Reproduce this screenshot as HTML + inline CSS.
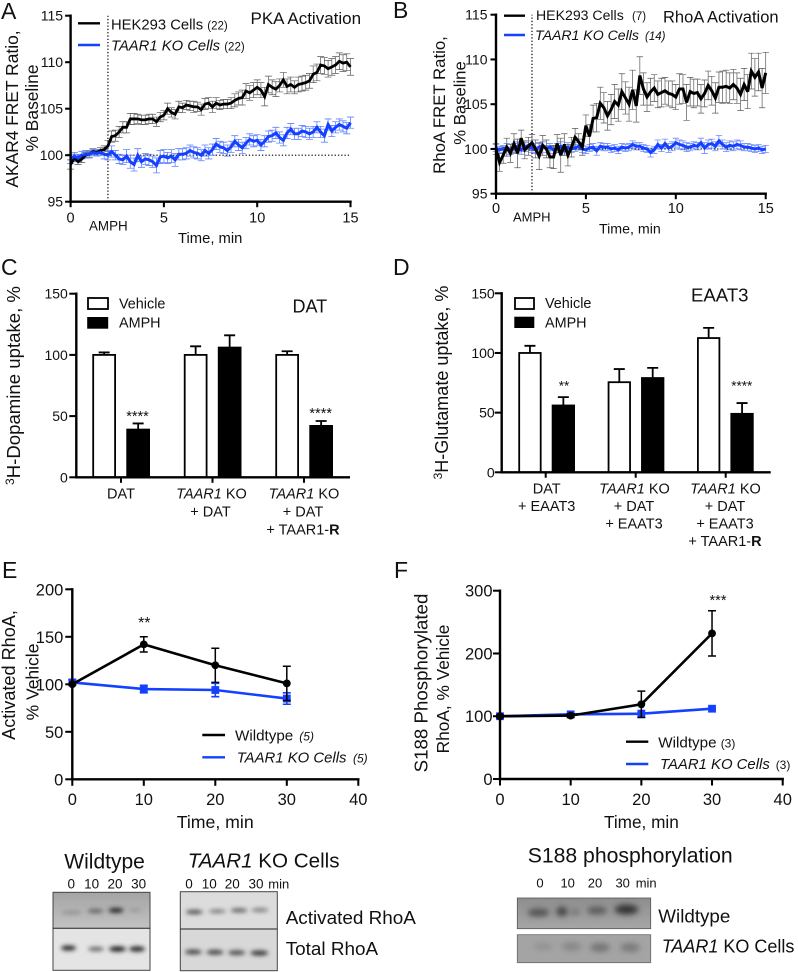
<!DOCTYPE html>
<html lang="en">
<head>
<meta charset="utf-8">
<title>AMPH signalling figure</title>
<style>
html,body{margin:0;padding:0;background:#fff;width:798px;height:972px;overflow:hidden}
svg{display:block}
text{font-family:"Liberation Sans",Arial,sans-serif;fill:#111}
.i{font-style:italic}
</style>
</head>
<body>
<svg id="fig" xmlns="http://www.w3.org/2000/svg" width="798" height="972" viewBox="0 0 798 972">
<defs>
<filter id="b2" x="-40%" y="-100%" width="180%" height="300%"><feGaussianBlur stdDeviation="2"/></filter>
<filter id="b3" x="-40%" y="-100%" width="180%" height="300%"><feGaussianBlur stdDeviation="3"/></filter>
<linearGradient id="wtTop" x1="0" y1="0" x2="0" y2="1"><stop offset="0" stop-color="#a4a4a4"/><stop offset="1" stop-color="#c2c2c2"/></linearGradient>
<linearGradient id="s188Bg" x1="0" y1="0" x2="0" y2="1"><stop offset="0" stop-color="#8e8e8e"/><stop offset="1" stop-color="#a6a6a6"/></linearGradient>
</defs>

<!-- Panel letters -->
<g font-size="23">
<text x="1" y="19">A</text>
<text x="393" y="18">B</text>
<text x="1" y="275">C</text>
<text x="393" y="275">D</text>
<text x="2" y="578">E</text>
<text x="394" y="578">F</text>
</g>

<!-- Panel A text -->
<g>
<text x="250.5" y="24" font-size="17">PKA Activation</text>
<line x1="78" x2="100" y1="23.3" y2="23.3" stroke="#000" stroke-width="2.4"/>
<line x1="78" x2="100" y1="45" y2="45" stroke="#1440ff" stroke-width="2.4"/>
<text x="111" y="29.3" font-size="14.8">HEK293 Cells <tspan font-size="11.5">(22)</tspan></text>
<text x="111" y="50.7" font-size="14.8"><tspan class="i">TAAR1 KO Cells</tspan> <tspan font-size="11.5">(22)</tspan></text>
<text transform="rotate(-90 18 109)" x="18" y="109" text-anchor="middle" font-size="17.4">AKAR4 FRET Ratio,</text>
<text transform="rotate(-90 38 108)" x="38" y="108" text-anchor="middle" font-size="17.4">% Baseline</text>
<text x="89" y="230.7" font-size="13.4">AMPH</text>
<text x="178" y="243" font-size="14.8">Time, min</text>
</g>

<!-- Panel B text -->
<g>
<text x="663" y="22.7" font-size="16.5">RhoA Activation</text>
<line x1="504" x2="525" y1="15.7" y2="15.7" stroke="#000" stroke-width="2.4"/>
<line x1="504" x2="525" y1="35" y2="35" stroke="#1440ff" stroke-width="2.4"/>
<text x="536" y="20" font-size="14.1">HEK293 Cells</text>
<text x="632" y="20" font-size="11.5">(7)</text>
<text x="535" y="40" font-size="14.1" class="i">TAAR1 KO Cells</text>
<text x="645" y="40" font-size="11.5" class="i">(14)</text>
<text transform="rotate(-90 445 105)" x="445" y="105" text-anchor="middle" font-size="16.8">RhoA FRET Ratio,</text>
<text transform="rotate(-90 465.7 103)" x="465.7" y="103" text-anchor="middle" font-size="16.7">% Baseline</text>
<text x="513" y="221.7" font-size="13">AMPH</text>
<text x="599" y="233.3" font-size="14.2">Time, min</text>
</g>

<!-- Panel C text -->
<g>
<text x="292.5" y="312.7" font-size="18">DAT</text>
<text transform="rotate(-90 20 385.5)" x="20" y="385.5" text-anchor="middle" font-size="18.6"><tspan font-size="12" dy="-6">3</tspan><tspan dy="6">H-Dopamine uptake, %</tspan></text>
<rect x="88" y="298" width="20" height="11" fill="#fff" stroke="#000" stroke-width="1.8"/>
<rect x="87.2" y="317" width="21" height="11.7" fill="#000"/>
<text x="119" y="308.3" font-size="14.4">Vehicle</text>
<text x="119" y="327.7" font-size="14.4">AMPH</text>
<g font-size="14.5" text-anchor="middle">
<text x="121" y="498.3">DAT</text>
<text x="211.5" y="498.3"><tspan class="i">TAAR1</tspan> KO</text>
<text x="210.5" y="516.7">+ DAT</text>
<text x="304" y="498.3"><tspan class="i">TAAR1</tspan> KO</text>
<text x="303" y="516.7">+ DAT</text>
<text x="303" y="534.3">+ TAAR1-<tspan font-weight="bold">R</tspan></text>
</g>
<g font-size="14.5" text-anchor="middle">
<text x="137.5" y="421">****</text>
<text x="320.7" y="418">****</text>
</g>
</g>

<!-- Panel D text -->
<g>
<text x="691" y="301.7" font-size="18.6">EAAT3</text>
<text transform="rotate(-90 448 382.5)" x="448" y="382.5" text-anchor="middle" font-size="18"><tspan font-size="12" dy="-6">3</tspan><tspan dy="6">H-Glutamate uptake, %</tspan></text>
<rect x="515" y="298" width="19" height="11" fill="#fff" stroke="#000" stroke-width="1.8"/>
<rect x="514.3" y="316.7" width="20" height="11.3" fill="#000"/>
<text x="545" y="308" font-size="14.4">Vehicle</text>
<text x="545" y="327.7" font-size="14.4">AMPH</text>
<g font-size="14.5" text-anchor="middle">
<text x="546.7" y="493.3">DAT</text>
<text x="546.7" y="511">+ EAAT3</text>
<text x="634.5" y="493.3"><tspan class="i">TAAR1</tspan> KO</text>
<text x="634" y="511">+ DAT</text>
<text x="634" y="528.7">+ EAAT3</text>
<text x="725.5" y="493.3"><tspan class="i">TAAR1</tspan> KO</text>
<text x="725" y="511">+ DAT</text>
<text x="725" y="528.7">+ EAAT3</text>
<text x="725" y="546">+ TAAR1-<tspan font-weight="bold">R</tspan></text>
</g>
<g font-size="13.5" text-anchor="middle">
<text x="564" y="390.5">**</text>
<text x="741.7" y="390.5">****</text>
</g>
</g>

<!-- Panel E text -->
<g>
<text transform="rotate(-90 15 675)" x="15" y="675" text-anchor="middle" font-size="18.1">Activated RhoA,</text>
<text transform="rotate(-90 38.3 682)" x="38.3" y="682" text-anchor="middle" font-size="17.5">% Vehicle</text>
<text x="176.7" y="828" font-size="17.7">Time, min</text>
<text x="144.3" y="628" font-size="16" text-anchor="middle">**</text>
<line x1="202.3" x2="225" y1="735" y2="735" stroke="#000" stroke-width="2.4"/>
<line x1="202.3" x2="225" y1="757.3" y2="757.3" stroke="#1440ff" stroke-width="2.4"/>
<text x="235" y="740.7" font-size="15.2">Wildtype</text>
<text x="299.3" y="740.7" font-size="12" class="i">(5)</text>
<text x="236.7" y="762.7" font-size="14.9" class="i">TAAR1 KO Cells</text>
<text x="353" y="762.7" font-size="12" class="i">(5)</text>
</g>

<!-- Panel F text -->
<g>
<text transform="rotate(-90 427.3 683)" x="427.3" y="683" text-anchor="middle" font-size="18.7">S188 Phosphorylated</text>
<text transform="rotate(-90 449 689)" x="449" y="689" text-anchor="middle" font-size="17.3">RhoA, % Vehicle</text>
<text x="604" y="828" font-size="17.2">Time, min</text>
<text x="718" y="605" font-size="14.5" text-anchor="middle">***</text>
<line x1="626" x2="648.3" y1="741.7" y2="741.7" stroke="#000" stroke-width="2.4"/>
<line x1="626" x2="648.3" y1="764" y2="764" stroke="#1440ff" stroke-width="2.4"/>
<text x="658.3" y="747.3" font-size="15.2">Wildtype</text>
<text x="720.7" y="747.3" font-size="12">(3)</text>
<text x="660" y="769" font-size="14.9" class="i">TAAR1 KO Cells</text>
<text x="775.7" y="769" font-size="12">(3)</text>
</g>

<!-- Western blots, left -->
<g>
<text x="64.3" y="868.3" font-size="21">Wildtype</text>
<text x="187.7" y="867.3" font-size="20.6"><tspan class="i">TAAR1</tspan> KO Cells</text>
<g font-size="13.5" text-anchor="middle">
<text x="71.3" y="888.7">0</text>
<text x="91.7" y="888.7">10</text>
<text x="115" y="888.7">20</text>
<text x="138.7" y="888.7">30</text>
<text x="189" y="888.7">0</text>
<text x="209.3" y="888.7">10</text>
<text x="232.3" y="888.7">20</text>
<text x="256" y="888.7">30</text>
</g>
<text x="268.3" y="888.7" font-size="13">min</text>
<text x="285.7" y="924" font-size="18.9">Activated RhoA</text>
<text x="285.7" y="955" font-size="18.9">Total RhoA</text>
</g>

<g>
<rect x="53" y="892.3" width="97" height="36" fill="url(#wtTop)"/>
<ellipse cx="71.5" cy="912.5" rx="10" ry="1.8" fill="#8f8f8f" filter="url(#b2)"/>
<ellipse cx="95.5" cy="911" rx="8" ry="2.2" fill="#686868" filter="url(#b2)"/>
<ellipse cx="116" cy="910.3" rx="7.5" ry="2.6" fill="#2a2a2a" filter="url(#b2)"/>
<ellipse cx="135" cy="910" rx="6" ry="1.6" fill="#949494" filter="url(#b2)"/>
</g>
<g>
<rect x="53" y="928.3" width="97" height="42" fill="#e4e4e4"/>
<ellipse cx="68.5" cy="948" rx="7.5" ry="2.6" fill="#2a2a2a" filter="url(#b2)"/>
<ellipse cx="96" cy="949" rx="8" ry="2.3" fill="#6a6a6a" filter="url(#b2)"/>
<ellipse cx="117.5" cy="949" rx="8.5" ry="2.7" fill="#222" filter="url(#b2)"/>
<ellipse cx="137" cy="949" rx="8" ry="2.7" fill="#2a2a2a" filter="url(#b2)"/>
</g>
<rect x="53" y="892.3" width="97" height="78" fill="none" stroke="#444" stroke-width="1"/>
<line x1="53" x2="150" y1="928.3" y2="928.3" stroke="#222" stroke-width="1"/>

<g>
<rect x="180.3" y="891.7" width="97" height="37.5" fill="#dcdcdc"/>
<ellipse cx="194.3" cy="912" rx="8.5" ry="2.3" fill="#555" filter="url(#b2)"/>
<ellipse cx="217.3" cy="911.3" rx="8.5" ry="1.9" fill="#777" filter="url(#b2)"/>
<ellipse cx="239" cy="910.3" rx="8.5" ry="2.1" fill="#5e5e5e" filter="url(#b2)"/>
<ellipse cx="260" cy="910" rx="8.5" ry="1.9" fill="#777" filter="url(#b2)"/>
</g>
<g>
<rect x="180.3" y="929" width="97" height="42" fill="#d8d8d8"/>
<ellipse cx="193.3" cy="952" rx="8.5" ry="2.5" fill="#4a4a4a" filter="url(#b2)"/>
<ellipse cx="215" cy="952.3" rx="8.5" ry="2.5" fill="#4a4a4a" filter="url(#b2)"/>
<ellipse cx="236.7" cy="952.7" rx="8.5" ry="2.5" fill="#505050" filter="url(#b2)"/>
<ellipse cx="259.3" cy="953" rx="9" ry="2.6" fill="#3a3a3a" filter="url(#b2)"/>
</g>
<rect x="180.3" y="891.7" width="97" height="79" fill="none" stroke="#444" stroke-width="1"/>
<line x1="180.3" x2="277.3" y1="929" y2="929" stroke="#222" stroke-width="1"/>

<!-- Western blots, right -->
<g>
<text x="527.7" y="862.3" font-size="21.2">S188 phosphorylation</text>
<g font-size="13" text-anchor="middle">
<text x="540" y="887.7">0</text>
<text x="567.7" y="887.7">10</text>
<text x="595" y="887.7">20</text>
<text x="622.7" y="887.7">30</text>
</g>
<text x="635.7" y="887.7" font-size="13">min</text>
<text x="658.3" y="922.7" font-size="18.8">Wildtype</text>
<text x="661.7" y="952.7" font-size="18"><tspan class="i">TAAR1</tspan> KO Cells</text>
</g>
<g>
<rect x="517.3" y="898" width="133.4" height="30.7" fill="url(#s188Bg)" stroke="#555" stroke-width=".8"/>
<ellipse cx="538.5" cy="912.5" rx="11" ry="4" fill="#525252" filter="url(#b3)"/>
<ellipse cx="562" cy="911.5" rx="6" ry="5" fill="#4a4a4a" filter="url(#b3)"/>
<ellipse cx="575" cy="912" rx="5" ry="3" fill="#727272" filter="url(#b3)"/>
<ellipse cx="597" cy="910.5" rx="10" ry="4" fill="#5c5c5c" filter="url(#b3)"/>
<ellipse cx="626.5" cy="909.5" rx="12" ry="5" fill="#363636" filter="url(#b3)"/>
</g>
<g>
<rect x="517.3" y="934.7" width="133.4" height="28" fill="#a4a4a4" stroke="#666" stroke-width=".8"/>
<ellipse cx="543" cy="946.5" rx="10" ry="3.5" fill="#929292" filter="url(#b3)"/>
<ellipse cx="571.5" cy="946.5" rx="10" ry="4" fill="#868686" filter="url(#b3)"/>
<ellipse cx="600" cy="947.5" rx="10" ry="4.5" fill="#747474" filter="url(#b3)"/>
<ellipse cx="630" cy="947.5" rx="10" ry="4.5" fill="#7a7a7a" filter="url(#b3)"/>
</g>

<g id="plots"></g>
</svg>

<script>
// ---------- shared axis ticks and categories ----------
const timeMinutes = [0,0.2,0.4,0.6,0.8,1,1.2,1.4,1.6,1.8,2,2.2,2.4,2.6,2.8,3,3.2,3.4,3.6,3.8,4,4.2,4.4,4.6,4.8,5,5.2,5.4,5.6,5.8,6,6.2,6.4,6.6,6.8,7,7.2,7.4,7.6,7.8,8,8.2,8.4,8.6,8.8,9,9.2,9.4,9.6,9.8,10,10.2,10.4,10.6,10.8,11,11.2,11.4,11.6,11.8,12,12.2,12.4,12.6,12.8,13,13.2,13.4,13.6,13.8,14,14.2,14.4,14.6,14.8,15];
const fretXTicks = [0,5,10,15];
const fretYTicks = [95,100,105,110,115];
const uptakeYTicks = [0,50,100,150];
const timeCourseXTicks = [0,10,20,30,40];
const rhoaYTicks = [0,50,100,150,200];
const s188YTicks = [0,100,200,300];
const timeCoursePoints = [0,10,20,30];
const amphTime = [2];
const baselineValue = [100];

// ---------- panel A ----------
const pkaControl = [
99.0,99.7,99.3,99.6,100.0,100.1,100.4,100.3,100.5,100.6,
101.0,102.0,102.1,102.5,103.0,103.0,103.9,103.9,103.9,103.8,
103.8,103.9,103.9,103.6,104.1,104.3,105.0,104.6,104.4,105.2,
105.1,105.4,105.3,105.2,105.2,104.9,105.5,105.6,105.2,105.6,
105.4,105.5,105.5,105.6,105.9,106.1,106.2,106.9,106.7,107.0,
107.3,107.0,106.3,107.6,107.3,107.1,107.5,108.1,107.4,107.6,
107.3,107.6,107.7,107.8,108.0,108.7,108.9,109.7,109.6,109.3,
109.5,109.7,110.1,109.9,110.0,109.5];
const pkaControlErr = [
.5,.4,.3,.4,.3,.3,.3,.3,.3,.4,
.6,.6,.6,.6,.6,.6,.6,.6,.5,.5,
.5,.5,.5,.5,.5,.5,.6,.5,.5,.6,
.5,.5,.5,.6,.5,.6,.6,.6,.6,.6,
.5,.5,.5,.6,.7,.7,.8,.8,.8,.8,
.8,.8,1.0,.9,.8,.8,.7,.8,.8,.8,
.7,.8,.8,.8,.8,.9,.9,.9,.9,.9,
.9,.9,.9,.9,.9,.9];
const pkaKo = [
99.6,99.9,99.7,100.0,100.1,100.1,100.3,100.2,100.3,100.1,
100.0,100.4,100.0,99.6,99.5,99.9,99.3,99.0,100.0,99.3,
99.6,99.5,99.3,98.9,99.8,99.9,99.7,99.9,99.5,100.1,
100.1,100.2,100.5,100.3,100.2,100.0,100.5,100.2,100.6,101.2,
100.9,100.8,100.5,100.9,101.5,101.1,100.8,101.3,101.7,101.5,
101.6,101.1,101.5,102.0,102.1,102.4,101.9,101.6,102.4,102.8,
102.3,102.3,102.6,102.5,102.3,102.5,103.0,102.5,102.1,103.3,
102.6,103.0,103.3,103.1,102.9,103.5];
const pkaKoErr = [
.5,.4,.4,.4,.4,.4,.3,.3,.3,.5,
.5,.6,.5,.5,.5,.7,.7,.7,.7,.6,
.6,.6,.6,.8,.7,.7,.6,.7,.7,.6,
.6,.6,.6,.6,.6,.6,.6,.6,.6,.6,
.6,.6,.6,.6,.6,.6,.6,.6,.6,.6,
.6,.6,.6,.6,.6,.6,.6,.6,.6,.6,
.6,.6,.6,.6,.6,.6,.6,.6,.7,.6,
.6,.6,.6,.6,.6,.6];

// ---------- panel B ----------
const rhoaControl = [
100.0,98.5,99.3,100.2,99.5,100.6,99.5,101.2,99.9,100.3,
100.7,100.0,99.2,100.4,100.0,99.1,99.1,100.6,99.3,100.5,
99.3,100.2,101.3,100.8,100.2,102.6,101.4,103.4,103.5,105.1,
104.6,103.7,104.4,105.3,104.9,106.4,105.7,105.0,106.6,104.8,
108.2,106.7,105.8,106.4,106.8,106.1,106.3,106.5,106.2,106.1,
105.8,106.7,106.7,105.2,106.4,106.2,106.3,105.6,106.2,107.1,
106.5,105.7,106.9,106.9,107.0,106.8,107.2,106.8,106.1,107.2,
106.4,108.7,108.0,108.6,106.8,108.5];
const rhoaControlErr = [
.6,1.0,.9,1.0,1.0,1.1,1.6,.9,1.0,1.0,
.9,1.0,1.5,1.1,1.0,1.2,1.3,1.0,1.9,1.2,
1.2,1.1,1.0,.9,.9,1.2,1.3,1.5,1.6,1.8,
1.7,1.6,1.7,1.9,1.8,2.0,1.8,1.9,2.2,1.8,
2.1,1.8,1.6,1.5,1.5,1.5,1.6,1.5,1.4,1.5,
1.4,1.7,1.6,2.0,1.6,1.6,1.5,1.6,1.5,1.6,
1.6,1.7,1.7,1.8,1.8,1.7,1.7,1.7,1.8,1.8,
1.9,2.0,2.1,2.1,2.2,2.3];
const rhoaKo = [
100.1,99.9,100.0,100.2,99.8,100.1,100.3,99.9,100.2,100.4,
100.1,99.9,100.2,100.4,100.0,100.2,99.9,100.1,100.3,99.8,
100.2,100.0,100.1,100.3,100.0,99.9,100.1,100.2,99.8,100.3,
100.2,100.2,100.0,100.1,99.9,100.2,100.1,100.2,100.5,100.3,
100.3,100.1,100.0,99.6,99.9,100.5,100.1,100.6,100.1,100.3,
100.7,100.5,100.4,100.2,100.2,100.4,100.3,100.7,100.1,100.5,
100.6,100.3,100.9,100.5,100.2,100.4,100.3,100.5,100.4,100.2,
100.2,100.1,100.0,100.1,99.9,100.0];
const rhoaKoErr = [
.4,.4,.4,.4,.4,.5,.5,.5,.5,.5,
.5,.4,.4,.4,.4,.4,.4,.5,.5,.5,
.5,.4,.4,.4,.4,.4,.4,.4,.5,.4,
.4,.4,.4,.4,.4,.4,.4,.4,.4,.4,
.4,.4,.4,.5,.4,.5,.4,.5,.5,.5,
.5,.5,.5,.5,.4,.4,.4,.5,.6,.5,
.5,.5,.6,.5,.5,.5,.5,.5,.5,.4,
.4,.4,.4,.4,.4,.4];

// ---------- panel C ----------
const datVehicle = [100,100,100];
const datVehicleErr = [2,7,3];
const datAmph = [39,106,42];
const datAmphErr = [5,10,4];

// ---------- panel D ----------
const eaatVehicle = [100,75.5,112.5];
const eaatVehicleErr = [6,11,8.5];
const eaatAmph = [56,79,49];
const eaatAmphErr = [7,8.5,9];

// ---------- panel E ----------
const activeWt = [100,142,120,101];
const activeWtErr = [0,8,18,18];
const activeKo = [102,95,94,85];
const activeKoErr = [3,4,7,6];

// ---------- panel F ----------
const s188Wt = [100,101,119,232];
const s188WtErr = [2,3,21,36];
const s188Ko = [100,103,104,112];
const s188KoErr = [3,4,5,4];

// ---------- helpers ----------
const NS = 'http://www.w3.org/2000/svg';
const root = document.getElementById('plots');
const BLUE = '#1440ff';

function mk(tag, attrs, parent) {
  const el = document.createElementNS(NS, tag);
  for (const k in attrs) el.setAttribute(k, attrs[k]);
  (parent || root).appendChild(el);
  return el;
}
function scale(d0, d1, r0, r1) {
  return function (v) { return r0 + (v - d0) * (r1 - r0) / (d1 - d0); };
}
function group(name) {
  const g = mk('g', {});
  
  
  return g;
}
function drawYAxis(name, yTicks, y, x0, fontSize, lw, tickLen, labelGap, baseAdj) {
  const g = group(name);
  const axis = mk('line', {x1:x0, x2:x0, y1:y(yTicks[yTicks.length-1])-lw/2, y2:y(yTicks[0])+lw/2, stroke:'#000','stroke-width':lw}, g);
  
  
  yTicks.forEach(function (t) {
    const tick = mk('line', {x1:x0-tickLen, x2:x0, y1:y(t), y2:y(t), stroke:'#000','stroke-width':lw*0.85}, g);
    
    
    const label = mk('text', {x:x0-labelGap, y:y(t)+baseAdj, 'text-anchor':'end','font-size':fontSize}, g);
    
    
    label.textContent = t;
  });
}
function drawXAxis(name, xTicks, x, y0, fontSize, lw, tickLen, baseline) {
  const g = group(name);
  const axis = mk('line', {x1:x(xTicks[0])-lw/2, x2:x(xTicks[xTicks.length-1])+lw/2, y1:y0, y2:y0, stroke:'#000','stroke-width':lw}, g);
  
  
  xTicks.forEach(function (t) {
    const tick = mk('line', {x1:x(t), x2:x(t), y1:y0, y2:y0+tickLen, stroke:'#000','stroke-width':lw*0.85}, g);
    
    
    const label = mk('text', {x:x(t), y:baseline, 'text-anchor':'middle','font-size':fontSize}, g);
    
    
    label.textContent = t;
  });
}
function linePath(xs, ys, x, y) {
  return xs.map(function (t, i) { return (i ? 'L' : 'M') + x(t).toFixed(2) + ' ' + y(ys[i]).toFixed(2); }).join('');
}
function drawErrors(name, xs, ys, errs, x, y, color, width, cap) {
  const g = group(name);
  xs.forEach(function (t, i) {
    if (!errs[i]) return;
    const px = x(t), hi = y(ys[i] + errs[i]), lo = y(ys[i] - errs[i]);
    const d = 'M' + px + ' ' + hi + 'V' + lo + 'M' + (px-cap) + ' ' + hi + 'H' + (px+cap) + 'M' + (px-cap) + ' ' + lo + 'H' + (px+cap);
    const bar = mk('path', {d:d, fill:'none', stroke:color, 'stroke-width':width}, g);
    
    
  });
}
function drawSeries(name, xs, ys, x, y, color, width) {
  const p = mk('path', {d:linePath(xs, ys, x, y), fill:'none', stroke:color, 'stroke-width':width, 'stroke-linejoin':'miter', 'stroke-miterlimit':3});
  
  
}
function drawRefLines(name, x, y, xT, yT) {
  const g = group(name);
  const h = mk('line', {x1:x(xT[0]), x2:x(xT[xT.length-1]), y1:y(baselineValue[0]), y2:y(baselineValue[0]), stroke:'#000','stroke-width':1.2,'stroke-dasharray':'1.3 2'}, g);
  
  
  const v = mk('line', {x1:x(amphTime[0]), x2:x(amphTime[0]), y1:y(yT[0]), y2:y(yT[yT.length-1]), stroke:'#000','stroke-width':1.2,'stroke-dasharray':'1.3 2'}, g);
  
  
}
function drawBars(name, vehicle, vehicleErr, amph, amphErr, y, left, groupStep, seriesStep, w) {
  const g = group(name);
  [[vehicle, vehicleErr, 0], [amph, amphErr, 1]].forEach(function (s) {
    s[0].forEach(function (v, i) {
      const bx = left + i * groupStep + s[2] * seriesStep;
      const top = y(v), cx = bx + w / 2, errTop = y(v + s[1][i]);
      const err = mk('path', {d:'M' + cx + ' ' + top + 'V' + errTop + 'M' + (cx-5.5) + ' ' + errTop + 'H' + (cx+5.5), fill:'none', stroke:'#000','stroke-width':1.8}, g);
      
      
      const bar = mk('rect', s[2] === 0
        ? {x:bx+0.9, y:top, width:w-1.8, height:y(0)-top, fill:'#fff', stroke:'#000','stroke-width':1.8}
        : {x:bx, y:top-0.9, width:w, height:y(0)-top+0.9, fill:'#000'}, g);
      
      
    });
  });
}
function drawCategoryAxis(name, x0, x1, y0, groupCount, firstCenter, step) {
  const g = group(name);
  const axis = mk('line', {x1:x0, x2:x1, y1:y0, y2:y0, stroke:'#000','stroke-width':2.4}, g);
  
  
  for (let i = 0; i < groupCount; i++) {
    const tick = mk('line', {x1:firstCenter+i*step, x2:firstCenter+i*step, y1:y0, y2:y0+5.5, stroke:'#000','stroke-width':2}, g);
    
    
  }
}
function drawMarkers(name, xs, ys, x, y, color, shape) {
  const g = group(name);
  xs.forEach(function (t, i) {
    const m = shape === 'circle'
      ? mk('circle', {cx:x(t), cy:y(ys[i]), r:3.9, fill:color}, g)
      : mk('rect', {x:x(t)-3.9, y:y(ys[i])-3.9, width:7.8, height:7.8, fill:color}, g);
    
    
  });
}

// ---------- panel A draw ----------
const xA = scale(0, 15, 70.6, 350.5);
const yA = scale(95, 115, 201.7, 15.7);
drawRefLines('reference-lines-a', xA, yA, fretXTicks, fretYTicks);
drawErrors('errors-control-a', timeMinutes, pkaControl, pkaControlErr, xA, yA, '#5a5a5a', 0.7, 3.5);
drawErrors('errors-ko-a', timeMinutes, pkaKo, pkaKoErr, xA, yA, '#5f80ff', 0.8, 3.5);
drawSeries('series-hek293-a', timeMinutes, pkaControl, xA, yA, '#000', 2.8);
drawSeries('series-ko-a', timeMinutes, pkaKo, xA, yA, BLUE, 3);
drawYAxis('y-axis-a', fretYTicks, yA, 70.6, 14, 2.4, 5.5, 7.5, 5);
drawXAxis('x-axis-a', fretXTicks, xA, 201.7, 14.5, 2.4, 5.5, 222.7);

// ---------- panel B draw ----------
const xB = scale(0, 15, 496, 765.7);
const yB = scale(95, 115, 193.7, 14.7);
drawRefLines('reference-lines-b', xB, yB, fretXTicks, fretYTicks);
drawErrors('errors-ko-b', timeMinutes, rhoaKo, rhoaKoErr, xB, yB, '#6f8cff', 0.8, 3.2);
drawErrors('errors-control-b', timeMinutes, rhoaControl, rhoaControlErr, xB, yB, '#5a5a5a', 0.7, 3.2);
drawSeries('series-ko-b', timeMinutes, rhoaKo, xB, yB, BLUE, 3);
drawSeries('series-hek293-b', timeMinutes, rhoaControl, xB, yB, '#000', 3);
drawYAxis('y-axis-b', fretYTicks, yB, 496, 14, 2.4, 5.5, 8.5, 5);
drawXAxis('x-axis-b', fretXTicks, xB, 193.7, 14.5, 2.4, 5.5, 213);

// ---------- panel C draw ----------
const yC = scale(0, 150, 477.3, 293.7);
drawBars('bars-c', datVehicle, datVehicleErr, datAmph, datAmphErr, yC, 92.3, 91.5, 34, 23.7);
drawYAxis('y-axis-c', uptakeYTicks, yC, 76.3, 14, 2.4, 7, 8.5, 5);
drawCategoryAxis('x-axis-c', 75.1, 350, 477.3, datVehicle.length, 121, 91.5);

// ---------- panel D draw ----------
const yD = scale(0, 150, 472.3, 293.3);
drawBars('bars-d', eaatVehicle, eaatVehicleErr, eaatAmph, eaatAmphErr, yD, 518.3, 89.35, 33.4, 23.3);
drawYAxis('y-axis-d', uptakeYTicks, yD, 501.7, 14, 2.4, 7, 7, 5);
drawCategoryAxis('x-axis-d', 500.5, 770.7, 472.3, eaatVehicle.length, 545.7, 90);

// ---------- panel E draw ----------
const xE = scale(0, 40, 72.3, 358.3);
const yE = scale(0, 200, 779.3, 589.3);
drawErrors('errors-ko-e', timeCoursePoints, activeKo, activeKoErr, xE, yE, BLUE, 1.6, 4);
drawSeries('series-ko-e', timeCoursePoints, activeKo, xE, yE, BLUE, 2.6);
drawMarkers('markers-ko-e', timeCoursePoints, activeKo, xE, yE, BLUE, 'square');
drawErrors('errors-wildtype-e', timeCoursePoints, activeWt, activeWtErr, xE, yE, '#000', 1.5, 4);
drawSeries('series-wildtype-e', timeCoursePoints, activeWt, xE, yE, '#000', 2.6);
drawMarkers('markers-wildtype-e', timeCoursePoints, activeWt, xE, yE, '#000', 'circle');
drawYAxis('y-axis-e', rhoaYTicks, yE, 72.3, 16.5, 2.4, 7, 9, 6);
drawXAxis('x-axis-e', timeCourseXTicks, xE, 779.3, 16.5, 2.4, 6.5, 805);

// ---------- panel F draw ----------
const xF = scale(0, 40, 500, 782.7);
const yF = scale(0, 300, 779, 590.7);
drawErrors('errors-ko-f', timeCoursePoints, s188Ko, s188KoErr, xF, yF, BLUE, 1.5, 3.5);
drawSeries('series-ko-f', timeCoursePoints, s188Ko, xF, yF, BLUE, 2.6);
drawMarkers('markers-ko-f', timeCoursePoints, s188Ko, xF, yF, BLUE, 'square');
drawErrors('errors-wildtype-f', timeCoursePoints, s188Wt, s188WtErr, xF, yF, '#000', 1.5, 4);
drawSeries('series-wildtype-f', timeCoursePoints, s188Wt, xF, yF, '#000', 2.6);
drawMarkers('markers-wildtype-f', timeCoursePoints, s188Wt, xF, yF, '#000', 'circle');
drawYAxis('y-axis-f', s188YTicks, yF, 500, 16.5, 2.4, 7, 7.5, 6);
drawXAxis('x-axis-f', timeCourseXTicks, xF, 779, 16.5, 2.4, 6.5, 805);
</script>
</body>
</html>
